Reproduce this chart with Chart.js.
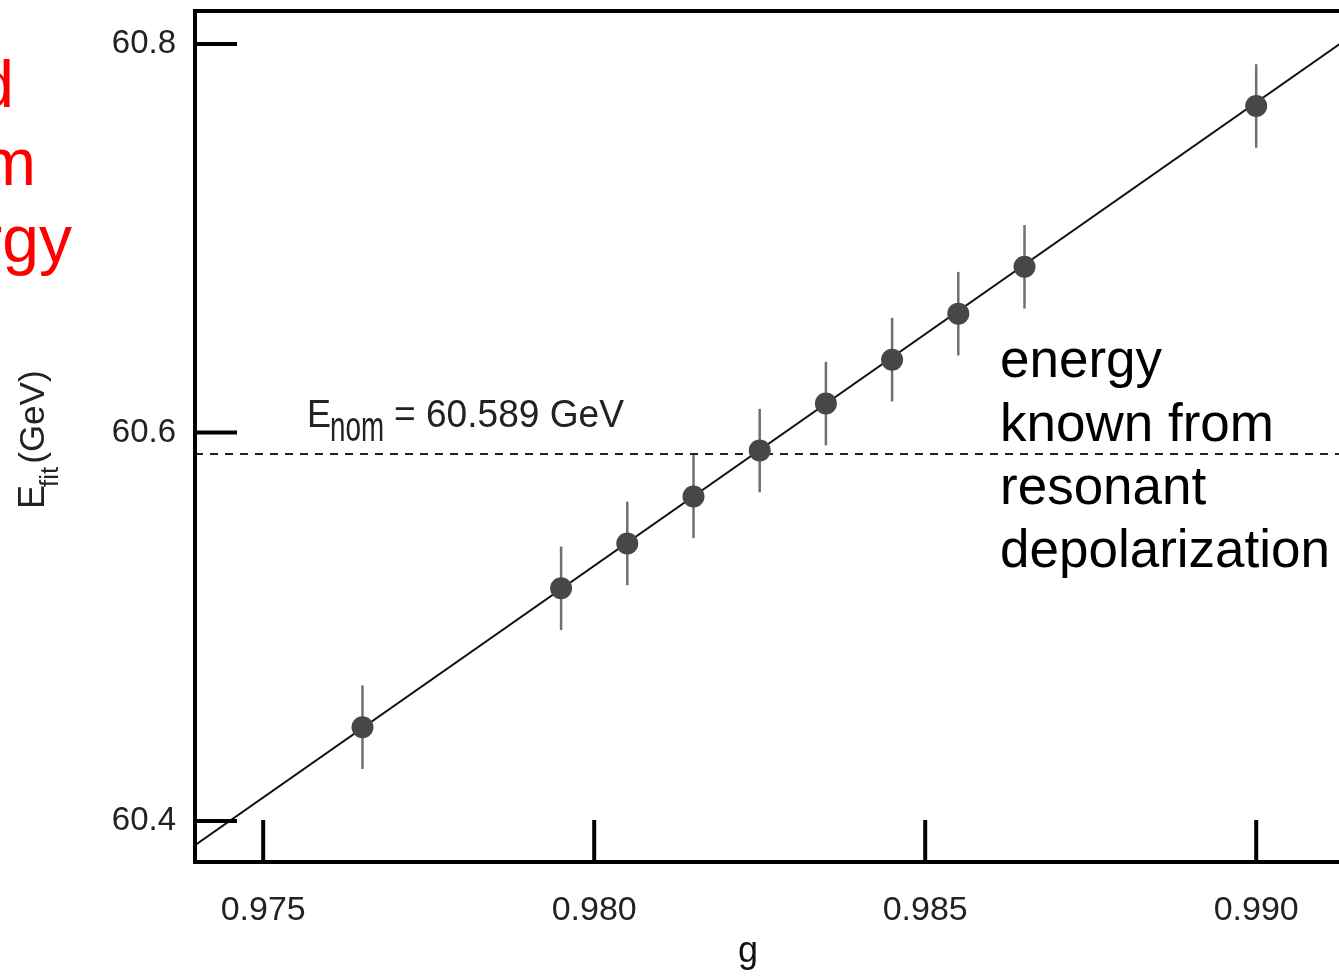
<!DOCTYPE html>
<html>
<head>
<meta charset="utf-8">
<script src="https://cdn.jsdelivr.net/npm/chart.js@4/dist/chart.umd.min.js"></script>
<style>
  html, body { margin: 0; padding: 0; background: #fff; overflow: hidden; width: 1339px; height: 977px; }
  canvas { display: block; }
</style>
</head>
<body>
<canvas id="chart" width="1400" height="977"></canvas>
<script>
// Measured points: fitted energy vs. g
const gValues   = [0.9765, 0.9795, 0.9805, 0.9815, 0.9825, 0.9835, 0.9845, 0.9855, 0.9865, 0.9900];
const eFitGeV   = [60.4483, 60.5198, 60.5429, 60.5671, 60.5907, 60.6149, 60.6375, 60.6612, 60.6853, 60.7681];
const eErrGeV   = [0.0215, 0.0215, 0.0215, 0.0215, 0.0215, 0.0215, 0.0215, 0.0215, 0.0215, 0.0215];

// Straight-line fit through the points (end points)
const fitLineG  = [0.97397, 0.99187];
const fitLineE  = [60.3876, 60.8145];

// Nominal energy from resonant depolarization
const eNominal  = 60.589;

// Axes
const xRange      = [0.97397, 0.99187];
const yRange      = [60.3789, 60.8170];
const xTickValues = [0.975, 0.980, 0.985, 0.990];
const yTickValues = [60.4, 60.6, 60.8];

const FONT = "'Liberation Sans', Arial, Helvetica, sans-serif";

const pointData   = gValues.map((g, i) => ({ x: g, y: eFitGeV[i] }));
const fitData     = fitLineG.map((g, i) => ({ x: g, y: fitLineE[i] }));
const nominalData = xRange.map(g => ({ x: g, y: eNominal }));

// Vertical error bars, drawn under the markers
const errorBars = {
  id: 'errorBars',
  beforeDatasetsDraw(chart) {
    const { ctx, scales: { x, y } } = chart;
    ctx.save();
    ctx.strokeStyle = '#707070';
    ctx.lineWidth = 2.5;
    gValues.forEach((g, i) => {
      const px = x.getPixelForValue(g);
      ctx.beginPath();
      ctx.moveTo(px, y.getPixelForValue(eFitGeV[i] - eErrGeV[i]));
      ctx.lineTo(px, y.getPixelForValue(eFitGeV[i] + eErrGeV[i]));
      ctx.stroke();
    });
    ctx.restore();
  }
};

// Heavy frame with inward tick marks
const frame = {
  id: 'frame',
  afterDatasetsDraw(chart) {
    const { ctx, chartArea: a, scales: { x, y } } = chart;
    ctx.save();
    ctx.strokeStyle = '#000';
    ctx.lineWidth = 4;
    ctx.lineCap = 'square';
    ctx.beginPath();
    ctx.moveTo(a.right, a.top);
    ctx.lineTo(a.left, a.top);
    ctx.lineTo(a.left, a.bottom);
    ctx.lineTo(a.right, a.bottom);
    ctx.stroke();
    ctx.lineCap = 'butt';
    yTickValues.forEach(v => {
      const py = y.getPixelForValue(v);
      ctx.beginPath();
      ctx.moveTo(a.left, py);
      ctx.lineTo(a.left + 42, py);
      ctx.stroke();
    });
    xTickValues.forEach(v => {
      const px = x.getPixelForValue(v);
      ctx.beginPath();
      ctx.moveTo(px, a.bottom);
      ctx.lineTo(px, a.bottom - 42);
      ctx.stroke();
    });
    ctx.restore();
  }
};

// Helper: draw text squeezed horizontally to a given width
function fitText(ctx, text, x, y, font, width) {
  ctx.font = font;
  const w = ctx.measureText(text).width;
  ctx.save();
  ctx.translate(x, y);
  ctx.scale(width / w, 1);
  ctx.fillText(text, 0, 0);
  ctx.restore();
}

// Axis titles, labels and notes
const labels = {
  id: 'labels',
  afterDraw(chart) {
    const { ctx, scales: { y } } = chart;
    ctx.save();
    ctx.textBaseline = 'alphabetic';
    ctx.textAlign = 'left';

    // y-axis title: E_fit (GeV)
    ctx.save();
    ctx.fillStyle = '#222';
    ctx.translate(44, 509);
    ctx.rotate(-Math.PI / 2);
    ctx.font = `36px ${FONT}`;
    ctx.fillText('E', 0, 0);
    let cx = ctx.measureText('E').width - 2;
    ctx.font = `26px ${FONT}`;
    ctx.fillText('fit', cx, 14);
    cx += ctx.measureText('fit').width + 3;
    ctx.font = `35px ${FONT}`;
    ctx.fillText('(GeV)', cx, 0);
    ctx.restore();

    // x-axis title
    ctx.fillStyle = '#111';
    ctx.font = `36px ${FONT}`;
    ctx.textAlign = 'center';
    ctx.fillText('g', 748, 962);
    ctx.textAlign = 'left';

    // nominal energy label above the dashed line
    ctx.fillStyle = '#222';
    const baseY = y.getPixelForValue(eNominal) - 27;
    fitText(ctx, 'E', 307, baseY, `39px ${FONT}`, 24);
    fitText(ctx, 'nom', 330, baseY + 14, `42px ${FONT}`, 54);
    fitText(ctx, '= 60.589 GeV', 394, baseY, `39px ${FONT}`, 230);

    // note on the right
    ctx.fillStyle = '#000';
    ctx.font = `53px ${FONT}`;
    const note = ['energy', 'known from', 'resonant', 'depolarization'];
    const noteBase = [377, 441, 504, 567];
    note.forEach((t, i) => ctx.fillText(t, 1000, noteBase[i]));

    // red text at the left edge
    ctx.fillStyle = '#ff0000';
    ctx.font = `66px ${FONT}`;
    ctx.textAlign = 'right';
    ctx.fillText('d', 14, 107);
    ctx.fillText('m', 36, 185);
    ctx.fillText('rgy', 72, 262);
    ctx.restore();
  }
};

new Chart(document.getElementById('chart'), {
  type: 'scatter',
  data: {
    datasets: [
      {
        type: 'line',
        data: fitData,
        borderColor: '#111',
        borderWidth: 2,
        pointRadius: 0,
        fill: false,
        order: 3
      },
      {
        type: 'line',
        data: nominalData,
        borderColor: '#222',
        borderWidth: 2,
        borderDash: [8, 7],
        pointRadius: 0,
        fill: false,
        order: 2
      },
      {
        type: 'scatter',
        data: pointData,
        pointRadius: 11,
        pointBackgroundColor: '#474747',
        pointBorderWidth: 0,
        order: 0
      }
    ]
  },
  options: {
    responsive: false,
    animation: false,
    events: [],
    layout: { padding: { left: 0, top: 10, right: 20, bottom: 0 } },
    plugins: { legend: { display: false }, tooltip: { enabled: false } },
    scales: {
      x: {
        type: 'linear',
        min: xRange[0],
        max: xRange[1],
        afterBuildTicks(s) { s.ticks = xTickValues.map(v => ({ value: v })); },
        afterFit(s) { s.height = 115; s.paddingLeft = 0; s.paddingRight = 0; },
        grid: { display: false, drawTicks: false },
        border: { display: false },
        ticks: {
          padding: 28,
          autoSkip: false,
          maxRotation: 0,
          color: '#222',
          font: { family: FONT, size: 34 },
          callback: v => Number(v).toFixed(3)
        }
      },
      y: {
        type: 'linear',
        min: yRange[0],
        max: yRange[1],
        afterBuildTicks(s) { s.ticks = yTickValues.map(v => ({ value: v })); },
        afterFit(s) { s.width = 195; s.paddingTop = 0; s.paddingBottom = 0; },
        grid: { display: false, drawTicks: false },
        border: { display: false },
        ticks: {
          padding: 19,
          autoSkip: false,
          color: '#222',
          font: { family: FONT, size: 33 },
          callback: v => Number(v).toFixed(1)
        }
      }
    }
  },
  plugins: [errorBars, frame, labels]
});
</script>
</body>
</html>
